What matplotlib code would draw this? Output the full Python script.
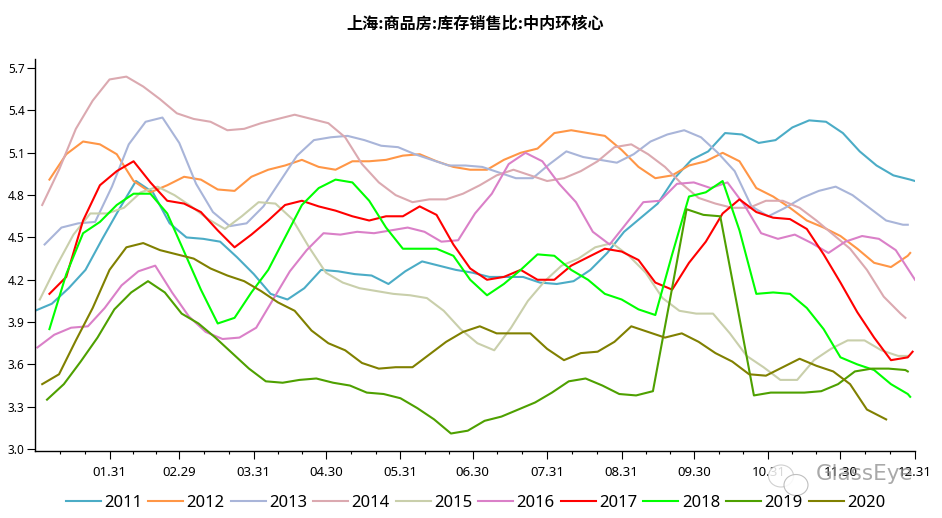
from __future__ import annotations

import matplotlib

matplotlib.use("Agg")
import matplotlib.pyplot as plt
import numpy as np
from matplotlib.patches import Ellipse

plt.rcParams["font.family"] = ["Noto Sans", "DejaVu Sans"]

TITLE = "上海:商品房:库存销售比:中内环核心"
YEARS = ["2011", "2012", "2013", "2014", "2015", "2016", "2017", "2018", "2019", "2020"]
COLORS = ["#4bacc6", "#ff9646", "#a9b5d9", "#dba9b0", "#c9cfab", "#da80c8", "#ff0000", "#00ff00", "#4ea000", "#808000"]
MONTH_ENDS = [31, 60, 91, 121, 152, 182, 213, 244, 274, 305, 335, 366]
MONTH_LABELS = ["01.31", "02.29", "03.31", "04.30", "05.31", "06.30", "07.31", "08.31", "09.30", "10.31", "11.30", "12.31"]
Y_TICKS = [3.0, 3.3, 3.6, 3.9, 4.2, 4.5, 4.8, 5.1, 5.4, 5.7]

# day of year of first and last reading, the rest are weekly
FIRST_DAYS = [0, 6, 4, 3, 2, 1, 6, 6, 5, 3]
LAST_DAYS = [366, 364, 363, 362, 363, 366, 365, 364, 363, 354]

s2011 = [3.98, 4.03, 4.14, 4.27, 4.49, 4.70, 4.90, 4.82, 4.60, 4.50, 4.49, 4.47, 4.36, 4.24, 4.10, 4.06, 4.14, 4.27,
         4.26, 4.24, 4.23, 4.17, 4.26, 4.33, 4.30, 4.27, 4.25, 4.22, 4.22, 4.22, 4.18, 4.17, 4.19, 4.27, 4.39, 4.54,
         4.64, 4.74, 4.92, 5.05, 5.11, 5.24, 5.23, 5.17, 5.19, 5.28, 5.33, 5.32, 5.24, 5.11, 5.01, 4.94, 4.91, 4.90]
s2012 = [4.91, 5.09, 5.18, 5.16, 5.09, 4.90, 4.82, 4.87, 4.93, 4.91, 4.84, 4.83, 4.93, 4.98, 5.01, 5.05, 5.00, 4.98,
         5.04, 5.04, 5.05, 5.08, 5.09, 5.04, 5.00, 4.98, 4.98, 5.05, 5.10, 5.13, 5.24, 5.26, 5.24, 5.22, 5.12, 5.00,
         4.92, 4.94, 5.01, 5.04, 5.10, 5.04, 4.85, 4.79, 4.71, 4.62, 4.57, 4.51, 4.42, 4.32, 4.29, 4.37, 4.39]
s2013 = [4.45, 4.57, 4.60, 4.61, 4.86, 5.16, 5.32, 5.35, 5.17, 4.88, 4.68, 4.58, 4.60, 4.72, 4.90, 5.08, 5.19, 5.21,
         5.22, 5.19, 5.15, 5.14, 5.09, 5.05, 5.01, 5.01, 5.00, 4.96, 4.92, 4.92, 5.02, 5.11, 5.07, 5.05, 5.03, 5.09,
         5.18, 5.23, 5.26, 5.21, 5.10, 4.97, 4.72, 4.65, 4.71, 4.78, 4.83, 4.86, 4.80, 4.71, 4.62, 4.59, 4.59]
s2014 = [4.73, 4.98, 5.27, 5.47, 5.62, 5.64, 5.57, 5.48, 5.38, 5.34, 5.32, 5.26, 5.27, 5.31, 5.34, 5.37, 5.34, 5.31,
         5.21, 5.02, 4.89, 4.80, 4.75, 4.77, 4.77, 4.81, 4.87, 4.94, 4.98, 4.94, 4.90, 4.92, 4.97, 5.04, 5.14, 5.16,
         5.09, 5.00, 4.88, 4.78, 4.74, 4.71, 4.71, 4.76, 4.76, 4.71, 4.62, 4.52, 4.42, 4.27, 4.08, 3.96, 3.93]
s2015 = [4.06, 4.30, 4.52, 4.67, 4.67, 4.71, 4.82, 4.86, 4.80, 4.72, 4.63, 4.56, 4.65, 4.75, 4.74, 4.63, 4.43, 4.25,
         4.18, 4.14, 4.12, 4.10, 4.09, 4.07, 3.98, 3.85, 3.75, 3.70, 3.86, 4.05, 4.19, 4.30, 4.35, 4.43, 4.46, 4.37,
         4.25, 4.07, 3.98, 3.96, 3.96, 3.82, 3.66, 3.58, 3.49, 3.49, 3.63, 3.71, 3.77, 3.77, 3.70, 3.66, 3.66]
s2016 = [3.72, 3.81, 3.86, 3.87, 4.00, 4.16, 4.26, 4.30, 4.11, 3.94, 3.83, 3.78, 3.79, 3.86, 4.06, 4.26, 4.41, 4.53,
         4.52, 4.54, 4.53, 4.55, 4.57, 4.54, 4.47, 4.48, 4.67, 4.81, 5.02, 5.10, 5.04, 4.88, 4.75, 4.54, 4.45, 4.60,
         4.75, 4.76, 4.88, 4.89, 4.85, 4.89, 4.73, 4.53, 4.49, 4.52, 4.46, 4.39, 4.47, 4.51, 4.49, 4.41, 4.20]
s2017 = [4.10, 4.22, 4.62, 4.87, 4.97, 5.04, 4.89, 4.76, 4.74, 4.68, 4.55, 4.43, 4.52, 4.62, 4.73, 4.76, 4.72, 4.69,
         4.65, 4.62, 4.65, 4.65, 4.72, 4.66, 4.45, 4.28, 4.20, 4.22, 4.27, 4.20, 4.20, 4.30, 4.36, 4.42, 4.40, 4.34,
         4.18, 4.13, 4.32, 4.47, 4.67, 4.77, 4.68, 4.64, 4.63, 4.56, 4.38, 4.18, 3.97, 3.79, 3.63, 3.65, 3.69]
s2018 = [3.85, 4.24, 4.53, 4.61, 4.73, 4.81, 4.81, 4.67, 4.40, 4.13, 3.89, 3.93, 4.11, 4.27, 4.50, 4.73, 4.85, 4.91,
         4.89, 4.76, 4.57, 4.42, 4.42, 4.42, 4.37, 4.20, 4.09, 4.17, 4.27, 4.38, 4.37, 4.27, 4.20, 4.10, 4.06, 3.99,
         3.95, 4.38, 4.79, 4.82, 4.90, 4.55, 4.10, 4.11, 4.10, 4.00, 3.85, 3.65, 3.60, 3.56, 3.46, 3.39, 3.37]
s2019 = [3.35, 3.46, 3.62, 3.79, 3.99, 4.11, 4.19, 4.11, 3.96, 3.89, 3.79, 3.68, 3.57, 3.48, 3.47, 3.49, 3.50, 3.47,
         3.45, 3.40, 3.39, 3.36, 3.29, 3.21, 3.11, 3.13, 3.20, 3.23, 3.28, 3.33, 3.40, 3.48, 3.50, 3.45, 3.39, 3.38,
         3.41, 4.05, 4.70, 4.66, 4.65, 4.02, 3.38, 3.40, 3.40, 3.40, 3.41, 3.46, 3.55, 3.57, 3.57, 3.56, 3.55]
s2020 = [3.46, 3.53, 3.77, 4.00, 4.27, 4.43, 4.46, 4.41, 4.38, 4.35, 4.28, 4.23, 4.19, 4.12, 4.04, 3.98, 3.84, 3.75,
         3.70, 3.61, 3.57, 3.58, 3.58, 3.67, 3.76, 3.83, 3.87, 3.82, 3.82, 3.82, 3.71, 3.63, 3.68, 3.69, 3.76, 3.87,
         3.83, 3.79, 3.82, 3.76, 3.68, 3.62, 3.53, 3.52, 3.58, 3.64, 3.59, 3.55, 3.46, 3.28, 3.21]

SERIES = [s2011, s2012, s2013, s2014, s2015, s2016, s2017, s2018, s2019, s2020]


def week_days(first, last, count):
    days = first + 7.0 * np.arange(count)
    days[-1] = last
    return days


def minor_ticks():
    edges = [0] + MONTH_ENDS
    ticks = []
    for start, stop in zip(edges[:-1], edges[1:]):
        step = (stop - start) / 3
        ticks += [start + step, start + 2 * step]
    return ticks


def add_watermark(fig):
    overlay = fig.add_axes([0, 0, 1, 1], zorder=5)
    overlay.set_xlim(0, 942)
    overlay.set_ylim(518, 0)
    overlay.axis("off")
    overlay.add_patch(Ellipse((781, 476), 25, 22, fc="white", ec="#c8c8c8", lw=0.8, alpha=0.85))
    overlay.add_patch(Ellipse((796, 485), 24, 21, fc="white", ec="#b4b4b4", lw=0.8, alpha=0.85))
    overlay.text(816, 474, "GlassEye", fontsize=15.5, color="#8c8c8c", alpha=0.75, va="center", ha="left",
                 family=["DejaVu Sans"])


def main():
    fig = plt.figure(figsize=(9.42, 5.18), dpi=100)
    axis = fig.add_axes([35 / 942, 1 - 451 / 518, 880 / 942, 392 / 518])
    for year, values, color, first, last in zip(YEARS, SERIES, COLORS, FIRST_DAYS, LAST_DAYS):
        axis.plot(week_days(first, last, len(values)), values, color=color, linewidth=1.5, label=year,
                  solid_joinstyle="round")

    axis.set_xlim(0, 366)
    axis.set_ylim(2.986, 5.765)
    axis.spines[["top", "right"]].set_visible(False)
    axis.spines[["left", "bottom"]].set_linewidth(1.0)
    axis.set_xticks(MONTH_ENDS, MONTH_LABELS)
    axis.set_xticks(minor_ticks(), minor=True)
    axis.set_yticks(Y_TICKS, [f"{tick:.1f}" for tick in Y_TICKS])
    axis.tick_params(axis="x", which="major", length=5.5, width=0.8, labelsize=9.5, pad=5)
    axis.tick_params(axis="x", which="minor", length=2.5, width=0.8)
    axis.tick_params(axis="y", which="major", length=6, width=0.8, labelsize=8.5, pad=1.5)

    fig.text(475 / 942, 1 - 24 / 518, TITLE, ha="center", va="center", fontsize=11.6, fontweight="bold",
             family=["Noto Sans CJK SC", "DejaVu Sans"])
    fig.legend(loc="center", bbox_to_anchor=(475.5 / 942, 1 - 503 / 518), ncol=10, frameon=False, fontsize=12,
               handlelength=2.1, handletextpad=0.2, columnspacing=0.36, borderpad=0)
    add_watermark(fig)
    fig.savefig("out.png", dpi=100)
    plt.close(fig)


if __name__ == "__main__":
    main()
